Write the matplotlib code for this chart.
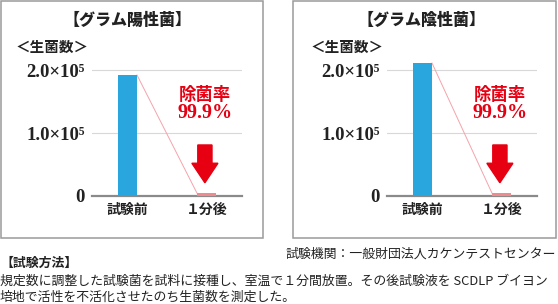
import numpy as np
import matplotlib.pyplot as plt
from matplotlib.patches import Rectangle, Polygon

plt.rcParams['font.family'] = ['Noto Sans CJK JP', 'DejaVu Sans']

# data
categories = ['試験前', '１分後']
gram_pos = [1.92e5, 0.045e5]
gram_neg = [2.11e5, 0.045e5]
titles = ['【グラム陽性菌】', '【グラム陰性菌】']
ylabel = '＜生菌数＞'
ytick_vals = [0, 1.0e5, 2.0e5]
ytick_labels = ['0', '1.0×10⁵', '2.0×10⁵']
rate_name = '除菌率'
rate_value = '99.9%'

W, H = 558, 304
fig = plt.figure(figsize=(W / 100, H / 100), dpi=100)

def fx(x):
    return x / W

def fy(y):
    return 1 - y / H

BLUE = '#2aa6df'
PINK = '#ef8a8f'
RED = '#e60012'
serif = ['Liberation Serif', 'DejaVu Serif']

# panel boxes
for x0, x1 in [(0.5, 263), (293, 556)]:
    fig.patches.append(Rectangle((fx(x0), fy(237.5)), fx(x1 - x0), 237 / H,
                                 transform=fig.transFigure, fill=False,
                                 edgecolor='#9a9a9a', linewidth=1.1))

def draw_panel(off, title, values):
    # axes: grid from x=92..242, baseline at y=196, 63px per 1e5
    ax = fig.add_axes([fx(92 + off), fy(196), fx(150), 2.3 * 63 / H])
    x = np.arange(len(values))
    w = 0.24
    ax.bar(x, values, width=w, color=[BLUE, PINK], zorder=5)
    ax.set_xlim(-0.45, 1.45)
    ax.set_ylim(0, 2.3e5)
    # connector line
    ax.plot([x[0] + w / 2, x[1] - w / 2], [values[0], values[1]],
            color='#f5a3aa', lw=0.7, zorder=2)
    ax.set_yticks(ytick_vals)
    ax.set_yticklabels(ytick_labels, family=serif, fontweight='bold',
                       fontsize=13.5, color='#222222')
    ax.set_xticks(x)
    ax.set_xticklabels(categories, fontweight='bold', fontsize=10,
                       color='#222222')
    ax.tick_params(length=0, axis='y', pad=5)
    ax.tick_params(length=0, axis='x', pad=5)
    ax.grid(axis='y', color='#d8d8d8', lw=0.8, zorder=0)
    for s in ['top', 'right', 'left']:
        ax.spines[s].set_visible(False)
    ax.spines['bottom'].set_color('#8a8a8a')
    ax.spines['bottom'].set_linewidth(1.6)
    ax.spines['bottom'].set_zorder(4)
    ax.patch.set_alpha(0)
    # red arrow
    cx = x[1] - 0.02
    sw, hw = 0.09, 0.165
    top, neck, tip = 0.81e5, 0.52e5, 0.21e5
    arrow = Polygon([(cx - sw, top), (cx + sw, top), (cx + sw, neck),
                     (cx + hw, neck), (cx, tip), (cx - hw, neck),
                     (cx - sw, neck)], closed=True, color=RED, zorder=5)
    ax.add_patch(arrow)
    ax.text(cx, 1.6e5, rate_name, color=RED, fontsize=12.5, fontweight='bold',
            ha='center', va='center')
    ax.text(cx, 1.31e5, rate_value, color=RED, fontsize=14.5,
            fontweight='bold', family=serif, ha='center', va='center')
    # titles
    fig.text(fx(127 + off), fy(20), title, fontsize=11.5, fontweight='heavy',
             ha='center', va='center', color='#222222')
    fig.text(fx(16 + off), fy(47), ylabel, fontsize=10.5, fontweight='bold',
             ha='left', va='center', color='#222222')

draw_panel(0, titles[0], gram_pos)
draw_panel(295, titles[1], gram_neg)

fig.text(fx(556), fy(254), '試験機関：一般財団法人カケンテストセンター',
         fontsize=9.3, ha='right', va='center', color='#222222')
fig.text(fx(0), fy(263), '【試験方法】', fontsize=9.3, fontweight='bold',
         ha='left', va='center', color='#222222')
fig.text(fx(0), fy(281),
         '規定数に調整した試験菌を試料に接種し、室温で１分間放置。その後試験液を SCDLP ブイヨン',
         fontsize=9.3, ha='left', va='center', color='#222222')
fig.text(fx(0), fy(297), '培地で活性を不活化させたのち生菌数を測定した。',
         fontsize=9.3, ha='left', va='center', color='#222222')

fig.savefig('out.png', dpi=100)
